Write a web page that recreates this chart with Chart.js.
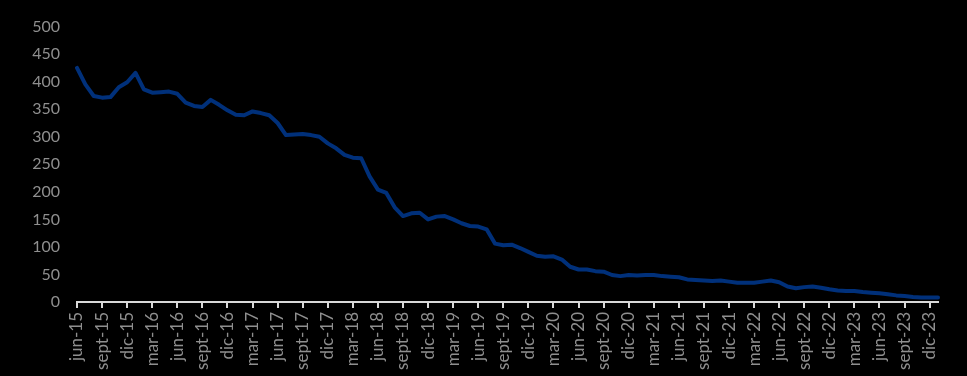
<!DOCTYPE html>
<html>
<head>
<meta charset="utf-8">
<script src="https://cdn.jsdelivr.net/npm/chart.js@4/dist/chart.umd.min.js"></script>
<style>
  html, body { margin: 0; padding: 0; background: #000; }
  #wrap { width: 967px; height: 376px; position: relative; }
</style>
</head>
<body>
<div id="wrap"><canvas id="lineChart"></canvas></div>
<script>
// monthly categories, jun-15 .. ene-24
const months = [
  'jun-15','jul-15','ago-15','sept-15','oct-15','nov-15','dic-15',
  'ene-16','feb-16','mar-16','abr-16','may-16','jun-16','jul-16','ago-16','sept-16','oct-16','nov-16','dic-16',
  'ene-17','feb-17','mar-17','abr-17','may-17','jun-17','jul-17','ago-17','sept-17','oct-17','nov-17','dic-17',
  'ene-18','feb-18','mar-18','abr-18','may-18','jun-18','jul-18','ago-18','sept-18','oct-18','nov-18','dic-18',
  'ene-19','feb-19','mar-19','abr-19','may-19','jun-19','jul-19','ago-19','sept-19','oct-19','nov-19','dic-19',
  'ene-20','feb-20','mar-20','abr-20','may-20','jun-20','jul-20','ago-20','sept-20','oct-20','nov-20','dic-20',
  'ene-21','feb-21','mar-21','abr-21','may-21','jun-21','jul-21','ago-21','sept-21','oct-21','nov-21','dic-21',
  'ene-22','feb-22','mar-22','abr-22','may-22','jun-22','jul-22','ago-22','sept-22','oct-22','nov-22','dic-22',
  'ene-23','feb-23','mar-23','abr-23','may-23','jun-23','jul-23','ago-23','sept-23','oct-23','nov-23','dic-23',
  'ene-24'
];

const values = [
  425, 395, 374, 371, 372, 390, 399,
  416, 386, 380, 381, 382, 378, 362, 356, 354, 367, 358, 348,
  340, 339, 346, 343, 339, 325, 303, 304, 305, 303, 300, 288,
  279, 267, 262, 261, 228, 204, 198, 172, 156, 161, 162, 150,
  155, 156, 150, 143, 138, 137, 132, 106, 103, 104, 98, 91,
  84, 82, 83, 77, 64, 59, 59, 56, 55, 49, 47, 49,
  48, 49, 49, 47, 46, 45, 41, 40, 39, 38, 39, 37,
  35, 35, 35, 37, 39, 36, 28, 25, 27, 28, 26, 23,
  21, 20, 20, 18, 17, 16, 14, 12, 11, 9, 8, 8,
  8
];

const yTicks = { min: 0, max: 500, step: 50 };

const axisGrey = '#d9d9d9';
const textGrey = '#8f8f8f';

const ctx = document.getElementById('lineChart').getContext('2d');

const lineChart = new Chart(ctx, {
  type: 'line',
  data: {
    labels: months,
    datasets: [{
      data: values,
      borderColor: '#00307a',
      borderWidth: 4,
      borderJoinStyle: 'round',
      borderCapStyle: 'round',
      pointRadius: 0,
      fill: false,
      tension: 0
    }]
  },
  options: {
    responsive: true,
    maintainAspectRatio: false,
    animation: false,
    layout: { padding: { top: 23, right: 29, bottom: 0, left: 0 } },
    plugins: {
      legend: { display: false },
      tooltip: { enabled: false }
    },
    scales: {
      x: {
        offset: false,
        border: { display: true, color: axisGrey, width: 2 },
        grid: {
          drawOnChartArea: false,
          drawTicks: true,
          tickLength: 6,
          lineWidth: 2,
          color: c => (c.index % 3 === 0 ? axisGrey : 'rgba(0,0,0,0)')
        },
        ticks: {
          autoSkip: false,
          maxRotation: 90,
          minRotation: 90,
          padding: 4,
          color: textGrey,
          font: { family: 'Lato', size: 17 },
          callback: function (val, i) { return i % 3 === 0 ? this.getLabelForValue(val) : ''; }
        },
        afterFit: s => { s.height = 74; }
      },
      y: {
        min: yTicks.min,
        max: yTicks.max,
        border: { display: false },
        grid: { display: false, drawTicks: false },
        ticks: {
          stepSize: yTicks.step,
          padding: 17,
          color: textGrey,
          font: { family: 'Lato', size: 16 }
        },
        afterFit: s => { s.width = 77; }
      }
    }
  }
});
</script>
</body>
</html>
